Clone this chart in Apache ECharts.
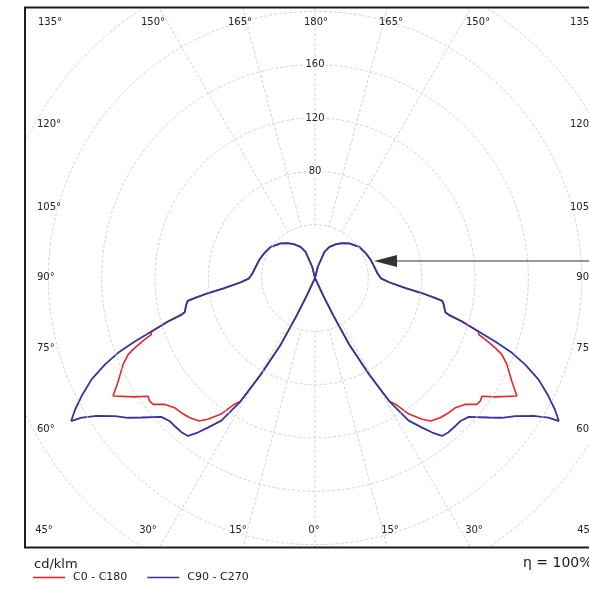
<!DOCTYPE html>
<html>
<head>
<meta charset="utf-8">
<script src="https://cdn.jsdelivr.net/npm/echarts@6/dist/echarts.min.js"></script>
<style>
  html, body { margin: 0; padding: 0; background: #fff; }
  #main { width: 589px; height: 591px; }
</style>
</head>
<body>
<div id="main"></div>
<script>
// 光强分布 cd/klm —— 右半边读数 (gamma, I)，左半边对称
var gammaRed = [0, 24, 25, 26, 27.2, 29.3, 31.1, 32.6, 34.6, 37.2, 39, 42, 44.8, 47.3, 50, 52, 53.3, 54.7, 56.6, 59.7,
  62.3, 65.7, 67.7, 68.8, 70.1, 70.9, 71.9, 73.5, 74.6, 75.3, 78.2, 79.8, 80.5, 81.9, 83.6, 86.7, 89.7, 94.3,
  100.8, 107.8, 115.8, 125.1, 135.2, 141.8, 148.1, 155.1, 160.1, 166, 175, 180];
var intensityRed = [0, 0, 14, 31, 56, 83, 108, 112.5, 124, 133, 138, 140.8, 142.4, 143.4, 147.4, 154, 154.6, 153.4, 162, 175.4,
  166.7, 158, 151.5, 145, 136, 130, 129, 115, 104, 101, 98.7, 97, 91.7, 81.3, 68.5, 55.7, 49.4, 47,
  45.2, 44, 42.4, 40.6, 36.5, 33.2, 29.9, 25.7, 20.9, 8.7, 0, 0];

var gammaBlue = [0, 24, 25, 26, 27.2, 29.3, 31.1, 33.3, 35.6, 37.2, 38.8, 40.9, 43.5, 45.5, 47.9, 51.2, 53.2, 55.4, 57.9, 59.1,
  59.6, 61.3, 63.2, 65.6, 67.6, 69.2, 70.6, 71.9, 73.5, 74.6, 75.3, 78.2, 79.8, 80.5, 81.9, 83.6, 86.7, 89.7, 94.3,
  100.8, 107.8, 115.8, 125.1, 135.2, 141.8, 148.1, 155.1, 160.1, 166, 175, 180];
var intensityBlue = [0, 0, 14, 31, 56, 83, 108, 128, 138, 145.5, 152, 153, 153, 153, 155.4, 167, 175, 182.4, 194.8, 204,
  212, 205, 196, 184, 170.5, 158, 143.3, 129, 115, 104, 101, 98.7, 97, 91.7, 81.3, 68.5, 55.7, 49.4, 47,
  45.2, 44, 42.4, 40.6, 36.5, 33.2, 29.9, 25.7, 20.9, 8.7, 0, 0];

var seriesNames = ['C0 - C180', 'C90 - C270'];
var seriesColors = ['#e5262c', '#35359e'];

// 刻度文字
var radiusLabels = [80, 120, 160];
var topLabels = ['135°', '150°', '165°', '180°', '165°', '150°', '135°'];
var bottomLabels = ['45°', '30°', '15°', '0°', '15°', '30°', '45°'];
var sideLabels = ['120°', '105°', '90°', '75°', '60°'];
var spokeAngles = [-180, -165, -150, -30, -15, 0, 15, 30, 150, 165, 180];

// 版面位置
var cx = 315, cy = 278;
var topX = [50, 153, 240, 316, 391, 478, 582];
var bottomX = [44, 148, 238, 314, 390, 474, 586];
var sideY = [124, 207, 277, 348, 429];

function mirror (gamma, values) {
  var right = gamma.map(function (g, i) { return [values[i], g]; });
  var left = right.slice().reverse().map(function (p) { return [p[0], -p[1]]; });
  return left.concat(right);
}

var gridColor = '#d2d2d2';
var spokeColors = [];
for (var a = -180; a < 180; a += 15) {
  spokeColors.push(spokeAngles.indexOf(a) >= 0 ? gridColor : 'rgba(0,0,0,0)');
}

var font = '10px "DejaVu Sans"';
var graphics = [
  { type: 'rect', z: 10, silent: true, shape: { x: 0, y: 0, width: 25, height: 591 }, style: { fill: '#fff' } },
  { type: 'rect', z: 10, silent: true, shape: { x: 0, y: 0, width: 589, height: 7 }, style: { fill: '#fff' } },
  { type: 'rect', z: 10, silent: true, shape: { x: 0, y: 548, width: 589, height: 43 }, style: { fill: '#fff' } },
  { type: 'rect', z: 11, silent: true, shape: { x: 25, y: 7.5, width: 581, height: 540 },
    style: { fill: 'none', stroke: '#1e1e1e', lineWidth: 2 } },
  // 箭头
  { type: 'line', z: 12, silent: true, shape: { x1: 396, y1: 261, x2: 600, y2: 261 }, style: { stroke: '#333', lineWidth: 1 } },
  { type: 'polygon', z: 12, silent: true, shape: { points: [[374, 261], [397, 255], [397, 267]] }, style: { fill: '#333' } },
  { type: 'text', z: 12, silent: true, style: { text: 'cd/klm', x: 34, y: 565, font: '13px "DejaVu Sans"', fill: '#1a1a1a',
    textAlign: 'left', align: 'left', textVerticalAlign: 'middle', verticalAlign: 'middle' } },
  { type: 'text', z: 12, silent: true, style: { text: 'η = 100%', x: 523, y: 563, font: '14px "DejaVu Sans"', fill: '#1a1a1a',
    textAlign: 'left', align: 'left', textVerticalAlign: 'middle', verticalAlign: 'middle' } }
];

function addLabel (text, x, y, align) {
  graphics.push({ type: 'text', z: 12, silent: true, style: { text: text, x: x, y: y, font: font, fill: '#222',
    textAlign: align, align: align, textVerticalAlign: 'middle', verticalAlign: 'middle' } });
}
topLabels.forEach(function (t, i) { addLabel(t, topX[i], 22, 'center'); });
bottomLabels.forEach(function (t, i) { addLabel(t, bottomX[i], 530, 'center'); });
sideLabels.forEach(function (t, i) {
  addLabel(t, 37, sideY[i], 'left');
  addLabel(t, 594, sideY[i], 'right');
});

var myChart = echarts.init(document.getElementById('main'));

var option = {
  animation: false,
  backgroundColor: '#fff',
  polar: [
    { center: [cx, cy], radius: [0, 320] },
    { center: [cx, cy], radius: [53, 420] }
  ],
  angleAxis: [
    { polarIndex: 0, type: 'value', min: -180, max: 180, startAngle: 90, clockwise: false,
      axisLine: { show: false }, axisTick: { show: false }, axisLabel: { show: false }, splitLine: { show: false } },
    { polarIndex: 1, type: 'value', min: -180, max: 180, interval: 15, startAngle: 90, clockwise: false, z: 1,
      axisLine: { show: false }, axisTick: { show: false }, axisLabel: { show: false },
      splitLine: { show: true, lineStyle: { color: spokeColors, width: 1, type: [3, 2] } } }
  ],
  radiusAxis: [
    { polarIndex: 0, type: 'value', min: 0, max: 240, interval: 40, z: 5,
      axisLine: { show: false }, axisTick: { show: false },
      splitLine: { show: true, lineStyle: { color: gridColor, width: 1, type: [3, 2] } },
      axisLabel: {
        show: true, margin: 0, align: 'center', verticalAlign: 'middle',
        formatter: function (v) { return radiusLabels.indexOf(v) >= 0 ? '{b|' + v + '}' : ''; },
        rich: { b: { backgroundColor: '#fff', padding: [1, 1], color: '#222', fontSize: 10, fontFamily: 'DejaVu Sans' } }
      } },
    { polarIndex: 1, type: 'value', min: 0, max: 100, show: false }
  ],
  legend: {
    data: seriesNames, left: 33, top: 572, z: 20, padding: 0, itemGap: 20,
    icon: 'rect', itemWidth: 32, itemHeight: 1.6,
    textStyle: { fontSize: 11, color: '#1a1a1a', fontFamily: 'DejaVu Sans', padding: [0, 0, 0, 3] }
  },
  series: [
    { name: seriesNames[0], type: 'line', coordinateSystem: 'polar', polarIndex: 0, symbol: 'none',
      color: seriesColors[0], lineStyle: { width: 1.6 }, data: mirror(gammaRed, intensityRed) },
    { name: seriesNames[1], type: 'line', coordinateSystem: 'polar', polarIndex: 0, symbol: 'none',
      color: seriesColors[1], lineStyle: { width: 1.8 }, data: mirror(gammaBlue, intensityBlue) }
  ],
  graphic: graphics
};

myChart.setOption(option);
</script>
</body>
</html>
